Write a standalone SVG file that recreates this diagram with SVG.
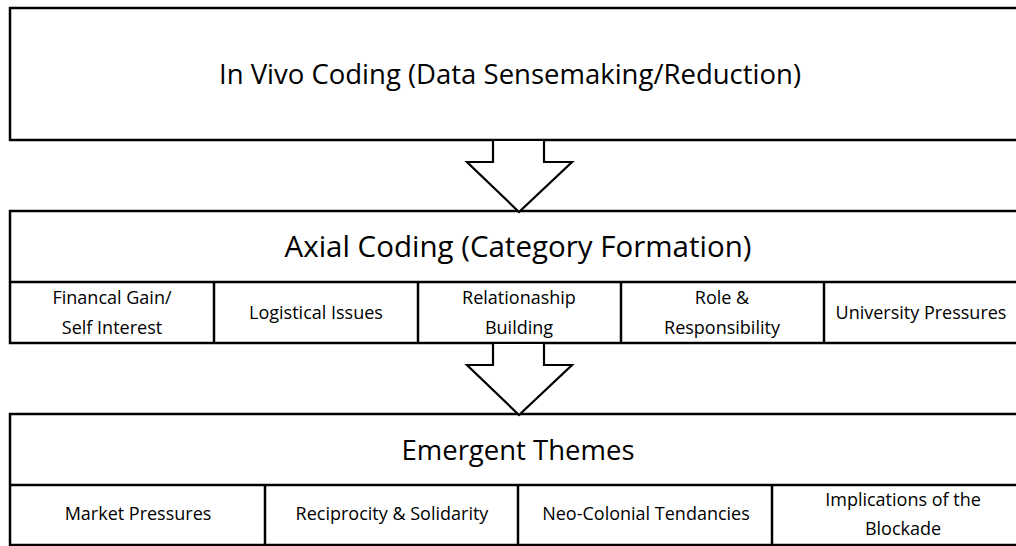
<svg xmlns="http://www.w3.org/2000/svg" width="1016" height="546" viewBox="0 0 1016 546">
  <style>
    .box { fill: #fff; stroke: #000; stroke-width: 2.5; }
    .rule { stroke: #000; stroke-width: 2.5; fill: none; }
    .arrow { fill: #fff; stroke: #000; stroke-width: 2.2; stroke-linejoin: miter; }
    text { font-family: "Open Sans", "Liberation Sans", sans-serif; fill: #000; text-anchor: middle; }
    .title { font-size: 27.5px; }
    .title-lg { font-size: 29.5px; }
    .cell { font-size: 18px; }
  </style>
  <rect width="1016" height="546" fill="#fff"/>

  <!-- Stage 1 -->
  <g id="invivo">
    <rect class="box" x="10" y="8" width="1030" height="132"/>
    <text class="title" x="510" y="84">In Vivo Coding (Data Sensemaking/Reduction)</text>
  </g>

  <!-- Stage 2 -->
  <g id="axial">
    <rect class="box" x="10" y="211" width="1030" height="132"/>
    <line class="rule" x1="10" y1="282" x2="1040" y2="282"/>
    <line class="rule" x1="214" y1="282" x2="214" y2="343"/>
    <line class="rule" x1="418" y1="282" x2="418" y2="343"/>
    <line class="rule" x1="621" y1="282" x2="621" y2="343"/>
    <line class="rule" x1="824" y1="282" x2="824" y2="343"/>
    <text class="title-lg" x="518" y="257">Axial Coding (Category Formation)</text>
    <text class="cell" x="112" y="304">Financal Gain/</text>
    <text class="cell" x="112" y="334">Self Interest</text>
    <text class="cell" x="316" y="319">Logistical Issues</text>
    <text class="cell" x="519" y="304">Relationaship</text>
    <text class="cell" x="519" y="334">Building</text>
    <text class="cell" x="722" y="304">Role &amp;</text>
    <text class="cell" x="722" y="334">Responsibility</text>
    <text class="cell" x="921" y="319">University Pressures</text>
  </g>

  <!-- Stage 3 -->
  <g id="themes">
    <rect class="box" x="10" y="414" width="1030" height="131"/>
    <line class="rule" x1="10" y1="485" x2="1040" y2="485"/>
    <line class="rule" x1="265" y1="485" x2="265" y2="545"/>
    <line class="rule" x1="518" y1="485" x2="518" y2="545"/>
    <line class="rule" x1="772" y1="485" x2="772" y2="545"/>
    <text class="title" x="518" y="460">Emergent Themes</text>
    <text class="cell" x="138" y="520">Market Pressures</text>
    <text class="cell" x="392" y="520">Reciprocity &amp; Solidarity</text>
    <text class="cell" x="646" y="520">Neo-Colonial Tendancies</text>
    <text class="cell" x="903" y="506">Implications of the</text>
    <text class="cell" x="903" y="535">Blockade</text>
  </g>

  <!-- Block arrows between stages -->
  <g id="connectors">
    <polygon class="arrow" points="493,140 544,140 544,162 572,162 519,212 467,162 493,162"/>
    <polygon class="arrow" points="493,343 544,343 544,365 572,365 519,415 467,365 493,365"/>
  </g>
</svg>
